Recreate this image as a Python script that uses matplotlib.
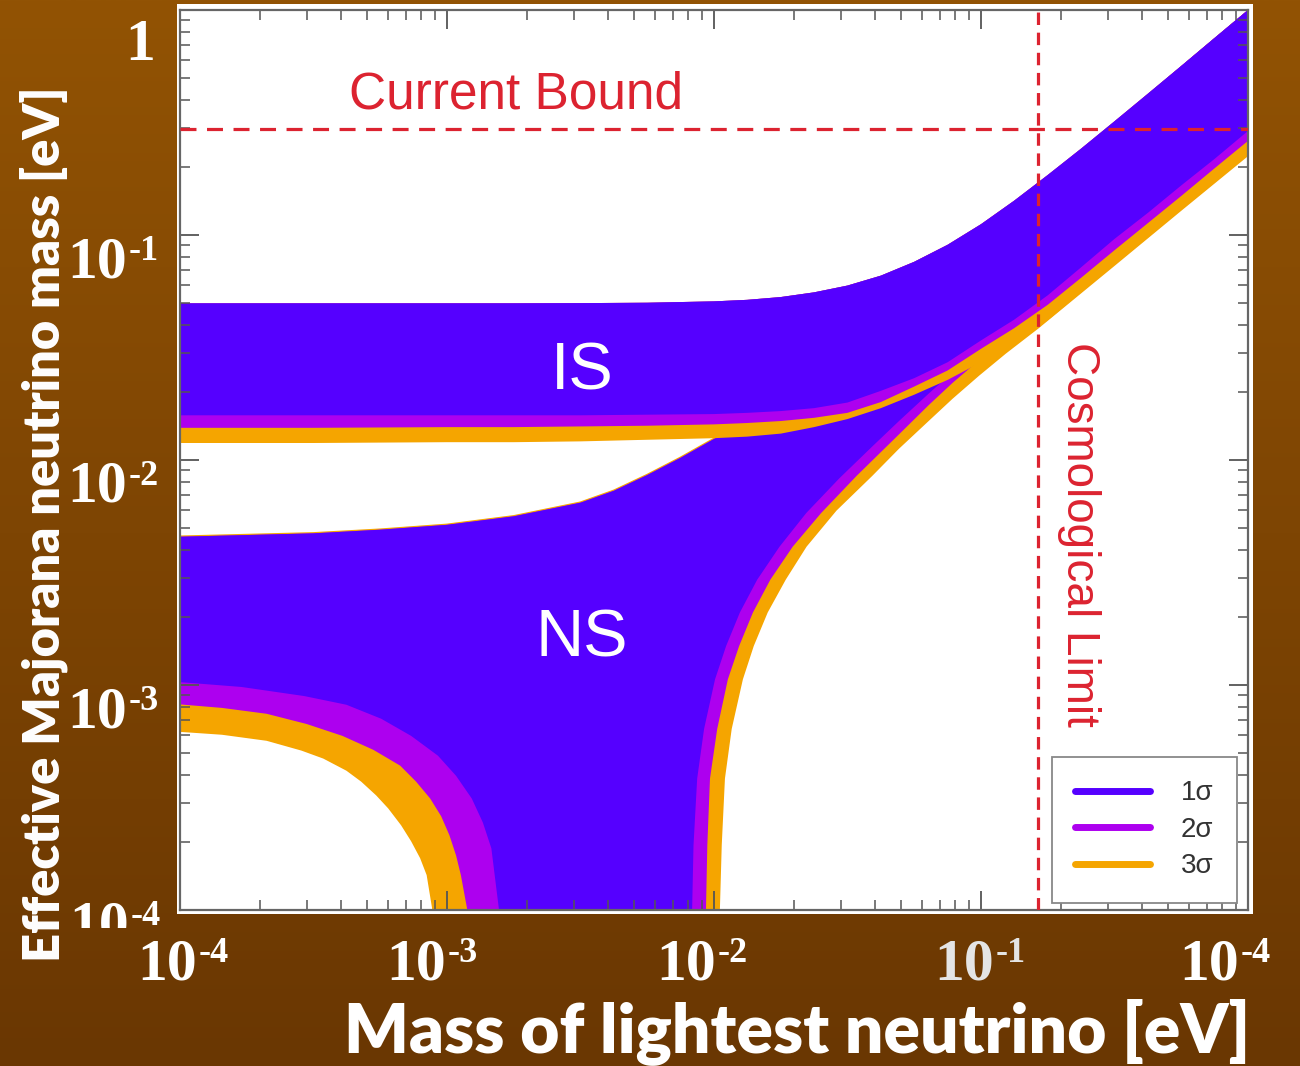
import numpy as np
import matplotlib
matplotlib.use('Agg')
import matplotlib.pyplot as plt
from matplotlib.lines import Line2D
from matplotlib.patches import Rectangle
from matplotlib.transforms import offset_copy, Bbox

# ---------------- data (eV) ----------------
# lightest neutrino mass at which the IS band edges were read
is_m = [1e-4, 3.16e-4, 1e-3, 1.78e-3, 3.16e-3, 5.62e-3, 1e-2, 1.33e-2, 1.78e-2,
        2.37e-2, 3.16e-2, 4.22e-2, 5.62e-2, 7.5e-2, 0.1, 0.133, 0.178, 0.237,
        0.316, 0.422, 0.562, 0.75, 1.0]
is_upper = [0.0497, 0.0497, 0.0497, 0.0497, 0.0498, 0.0500, 0.0507, 0.0515, 0.0530,
            0.0556, 0.0596, 0.0660, 0.0760, 0.0905, 0.1117, 0.142, 0.185, 0.242,
            0.320, 0.425, 0.564, 0.752, 1.0]
is_lower_1s = [0.0158, 0.0158, 0.0158, 0.0158, 0.0158, 0.0159, 0.0160, 0.0162, 0.0165,
               0.0170, 0.0180, 0.0203, 0.0231, 0.0272, 0.0340, 0.0420, 0.0540, 0.0718,
               0.096, 0.1255, 0.166, 0.218, 0.290]
is_lower_2s = [0.0139, 0.0139, 0.0140, 0.0140, 0.0141, 0.0142, 0.0144, 0.0146, 0.0149,
               0.0154, 0.0162, 0.0181, 0.0212, 0.0250, 0.0312, 0.0385, 0.0490, 0.0645,
               0.0855, 0.113, 0.149, 0.198, 0.262]
is_lower_3s = [0.0119, 0.0119, 0.0120, 0.0120, 0.0121, 0.0123, 0.0125, 0.0127, 0.0131,
               0.0140, 0.0152, 0.0170, 0.0195, 0.0227, 0.0272, 0.0332, 0.0418, 0.0556,
               0.074, 0.0975, 0.130, 0.171, 0.228]

# NS band upper edge
ns_up_m = [1e-4, 3.16e-4, 5.62e-4, 1e-3, 1.78e-3, 3.16e-3, 4.22e-3, 5.62e-3, 7.5e-3,
           1e-2, 1.33e-2, 1.78e-2, 3.16e-2, 5.62e-2, 0.1, 0.178, 0.316, 0.562, 1.0]
ns_up_v = [4.56e-3, 4.72e-3, 4.9e-3, 5.15e-3, 5.62e-3, 6.46e-3, 7.3e-3, 8.57e-3, 0.01023,
           0.0124, 0.0149, 0.0185, 0.033, 0.057, 0.101, 0.178, 0.316, 0.562, 1.0]
ns_fringe_n = 10   # part of the NS upper edge that is not covered by the IS band

# NS lower edge, right branch (rising out of the cancellation region)
ns_lowR_1s_m = [0.0082, 0.00828, 0.00838, 0.00865, 0.00918, 0.01009, 0.0111, 0.0125,
                0.01452, 0.0176, 0.02218, 0.0295, 0.0392, 0.0493, 0.0639, 0.0782,
                0.0984, 0.1239, 0.164, 0.316, 0.562, 1.0]
ns_lowR_1s_v = [5e-5, 1e-4, 1.94e-4, 3.84e-4, 6.38e-4, 1.06e-3, 1.49e-3, 2.10e-3,
                2.94e-3, 4.12e-3, 5.82e-3, 8.3e-3, 0.0115, 0.0149, 0.0198, 0.0245,
                0.0309, 0.0387, 0.050, 0.094, 0.164, 0.287]
ns_lowR_2s_m = [0.00925, 0.00933, 0.00944, 0.00966, 0.01028, 0.01127, 0.01242, 0.01399,
                0.01626, 0.01972, 0.02522, 0.0342, 0.0493, 0.0639, 0.0782, 0.0984,
                0.1239, 0.164, 0.316, 0.562, 1.0]
ns_lowR_2s_v = [5e-5, 1e-4, 1.94e-4, 3.84e-4, 6.38e-4, 1.06e-3, 1.49e-3, 2.10e-3,
                2.94e-3, 4.12e-3, 5.82e-3, 8.5e-3, 0.0130, 0.0176, 0.0220, 0.0278,
                0.0347, 0.0447, 0.0848, 0.149, 0.262]
ns_lowR_3s_m = [0.0104, 0.01052, 0.01069, 0.01099, 0.01165, 0.01283, 0.01409, 0.01589,
                0.01857, 0.02222, 0.02877, 0.0392, 0.0493, 0.0639, 0.0782, 0.0984,
                0.1239, 0.164, 0.316, 0.562, 1.0]
ns_lowR_3s_v = [5e-5, 1e-4, 1.94e-4, 3.84e-4, 6.38e-4, 1.06e-3, 1.49e-3, 2.10e-3,
                2.94e-3, 4.12e-3, 5.96e-3, 8.51e-3, 0.01122, 0.01496, 0.0187, 0.0237,
                0.0297, 0.0384, 0.0728, 0.128, 0.224]

# NS lower edge, left branch (falling into the cancellation region)
ns_lowL_1s_m = [1e-4, 1.70e-4, 2.92e-4, 4.20e-4, 5.67e-4, 7.34e-4, 9.25e-4, 1.081e-3,
                1.238e-3, 1.362e-3, 1.466e-3, 1.563e-3, 1.58e-3]
ns_lowL_1s_v = [1.03e-3, 9.80e-4, 8.93e-4, 8.17e-4, 7.08e-4, 5.94e-4, 4.85e-4, 3.95e-4,
                3.13e-4, 2.45e-4, 1.88e-4, 1.02e-4, 5e-5]
ns_lowL_2s_m = [1e-4, 1.436e-4, 2.11e-4, 2.98e-4, 4.06e-4, 5.30e-4, 6.68e-4, 7.66e-4,
                8.65e-4, 9.51e-4, 1.021e-3, 1.081e-3, 1.127e-3, 1.188e-3, 1.21e-3]
ns_lowL_2s_v = [8.2e-4, 7.91e-4, 7.45e-4, 6.71e-4, 5.94e-4, 5.15e-4, 4.38e-4, 3.72e-4,
                3.13e-4, 2.61e-4, 2.15e-4, 1.75e-4, 1.43e-4, 1.02e-4, 5e-5]
ns_lowL_3s_m = [1e-4, 1.436e-4, 2.11e-4, 2.85e-4, 3.44e-4, 4.20e-4, 4.77e-4, 5.43e-4,
                6.02e-4, 6.73e-4, 7.34e-4, 7.93e-4, 8.39e-4, 8.79e-4, 8.95e-4]
ns_lowL_3s_v = [6.19e-4, 6.01e-4, 5.65e-4, 5.11e-4, 4.71e-4, 4.16e-4, 3.72e-4, 3.23e-4,
                2.83e-4, 2.38e-4, 2.02e-4, 1.70e-4, 1.43e-4, 1.02e-4, 5e-5]

current_bound = 0.295
cosmo_limit = 0.164

legend_labels = ['1σ', '2σ', '3σ']
x_ticks = [1e-4, 1e-3, 1e-2, 1e-1, 1.0]
x_tick_base = ['10', '10', '10', '10', '10']
x_tick_exp = ['-4', '-3', '-2', '-1', '-4']
y_ticks = [1e-4, 1e-3, 1e-2, 1e-1, 1.0]
y_tick_base = ['10', '10', '10', '10', '1']
y_tick_exp = ['-4', '-3', '-2', '-1', '']

# ---------------- styling ----------------
W, H, DPI = 1300, 1066, 100
BLUE, PURPLE, ORANGE = '#5500ff', '#ad00ef', '#f5a500'
RED = '#dc2330'

fig = plt.figure(figsize=(W / DPI, H / DPI), dpi=DPI)

# brown gradient background + white frame of the embedded chart
bg = fig.add_axes([0, 0, 1, 1], zorder=-10)
c_top = np.array([146, 83, 4]) / 255
c_bot = np.array([106, 55, 2]) / 255
t = np.linspace(0, 1, 512)[:, None, None]
bg.imshow(c_top * (1 - t) + c_bot * t, aspect='auto', extent=[0, 1, 0, 1],
          origin='upper', interpolation='bilinear')
bg.add_patch(Rectangle((177 / W, 1 - 914 / H), 1076 / W, 910 / H,
                       facecolor='white', edgecolor='none'))
bg.set_xlim(0, 1)
bg.set_ylim(0, 1)
bg.set_axis_off()

L, R, T, B = 180, 1248, 10, 910
ax = fig.add_axes([L / W, 1 - B / H, (R - L) / W, (B - T) / H])
ax.set_xscale('log')
ax.set_yscale('log')
ax.set_xlim(1e-4, 1.0)
ax.set_ylim(1e-4, 1.0)
ax.set_facecolor('white')

# thin 3σ fringe along the visible part of the NS upper edge
ax.plot(ns_up_m[:ns_fringe_n], ns_up_v[:ns_fringe_n], color=ORANGE, lw=1.8,
        zorder=0.9, solid_joinstyle='round')

# NS bands (3σ, 2σ, 1σ)
ns_sets = [(ns_lowR_3s_m, ns_lowR_3s_v, ns_lowL_3s_m, ns_lowL_3s_v, ORANGE),
           (ns_lowR_2s_m, ns_lowR_2s_v, ns_lowL_2s_m, ns_lowL_2s_v, PURPLE),
           (ns_lowR_1s_m, ns_lowR_1s_v, ns_lowL_1s_m, ns_lowL_1s_v, BLUE)]
for rm, rv, lm_, lv, col in ns_sets:
    xs = list(ns_up_m) + rm[::-1] + lm_[::-1]
    ys = list(ns_up_v) + rv[::-1] + lv[::-1]
    ax.fill(xs, ys, facecolor=col, edgecolor='none', lw=0, zorder=1)

# IS bands (3σ, 2σ, 1σ)
for low, col in [(is_lower_3s, ORANGE), (is_lower_2s, PURPLE), (is_lower_1s, BLUE)]:
    ax.fill_between(is_m, low, is_upper, facecolor=col, edgecolor='none',
                    lw=0, zorder=1.2)

# bounds
ax.axhline(current_bound, color=RED, lw=2.3, dashes=(5.0, 3.3), zorder=3)
ax.axvline(cosmo_limit, color=RED, lw=2.3, dashes=(3.9, 2.4), zorder=3)

ax.text(1.82e-3, 0.42, 'Current Bound', color=RED, fontsize=37,
        family='Liberation Sans', ha='center', va='center', zorder=4)
ax.text(0.232, 4.66e-3, 'Cosmological Limit', color=RED, fontsize=33,
        family='Liberation Sans', ha='center', va='center', rotation=-90, zorder=4)
ax.text(3.2e-3, 0.0245, 'IS', color='white', fontsize=48,
        family='Liberation Sans', ha='center', va='center', zorder=4)
ax.text(3.2e-3, 1.6e-3, 'NS', color='white', fontsize=48,
        family='Liberation Sans', ha='center', va='center', zorder=4)

# ticks of the embedded chart
for s in ax.spines.values():
    s.set_color('#666666')
    s.set_linewidth(1.6)
ax.tick_params(which='both', direction='in', top=True, right=True,
               labelbottom=False, labelleft=False, colors='#555555')
ax.tick_params(which='major', length=14, width=1.3)
ax.tick_params(which='minor', length=7, width=1.1)

# legend
handles = [Line2D([], [], color=c, lw=5, solid_capstyle='round')
           for c in (BLUE, PURPLE, ORANGE)]
leg = ax.legend(handles, legend_labels, loc='lower right',
                bbox_to_anchor=(0.9897, 0.0078), borderaxespad=0,
                frameon=True, fancybox=False, framealpha=1,
                edgecolor='#888888', prop=dict(family='Liberation Sans', size=20),
                labelcolor='#333333', handlelength=2.7, handletextpad=1.1,
                borderpad=0.85, labelspacing=0.38)
leg.get_frame().set_linewidth(1.3)
leg.set_zorder(5)

# slide-style tick labels (white serif)
TFONT = dict(family='Liberation Serif', weight='bold')
x_dx = [17, -1, 2, 13, -9]
x_col = ['white', 'white', 'white', '#e4e4e4', 'white']
xtr = ax.get_xaxis_transform()
for v, b, e, dx, col in zip(x_ticks, x_tick_base, x_tick_exp, x_dx, x_col):
    ax.text(v, 0, b, transform=offset_copy(xtr, fig=fig, x=dx, y=-70, units='dots'),
            ha='right', va='baseline', fontsize=43, color=col, clip_on=False, **TFONT)
    ax.text(v, 0, e, transform=offset_copy(xtr, fig=fig, x=dx + 2, y=-52, units='dots'),
            ha='left', va='baseline', fontsize=26, color=col, clip_on=False, **TFONT)

ytr = ax.get_yaxis_transform()
y_dx = [-51, -53, -53, -53, -25]
y_dy = [32, 42, 42, 42, 50]
clip = Bbox.from_extents(0, H - 928, W, H)
for v, b, e, dx, dy in zip(y_ticks, y_tick_base, y_tick_exp, y_dx, y_dy):
    t1 = ax.text(0, v, b, transform=offset_copy(ytr, fig=fig, x=dx, y=-dy, units='dots'),
                 ha='right', va='baseline', fontsize=43, color='white', **TFONT)
    t1.set_clip_box(clip)
    t1.set_clip_on(True)
    if e:
        t2 = ax.text(0, v, e, transform=offset_copy(ytr, fig=fig, x=dx + 2, y=-dy + 17,
                                                    units='dots'),
                     ha='left', va='baseline', fontsize=26, color='white', **TFONT)
        t2.set_clip_box(clip)
        t2.set_clip_on(True)

# axis titles (slide style)
LFONT = dict(family='Lato', weight='heavy', color='white')
xl = fig.text(797 / W, 1 - 1052 / H, 'Mass of lightest neutrino [eV]',
              ha='center', va='baseline', fontsize=38, **LFONT)
yl = fig.text(60 / W, 1 - 524 / H, 'Effective Majorana neutrino mass [eV]',
              ha='center', va='baseline', rotation=90, rotation_mode='anchor',
              fontsize=34, **LFONT)
fig.canvas.draw()
rnd = fig.canvas.get_renderer()
for txt, target in ((xl, 906), (yl, 878)):
    bb = txt.get_window_extent(renderer=rnd)
    length = max(bb.width, bb.height)
    txt.set_fontsize(txt.get_fontsize() * target / length)

fig.savefig('out.png', dpi=DPI)
